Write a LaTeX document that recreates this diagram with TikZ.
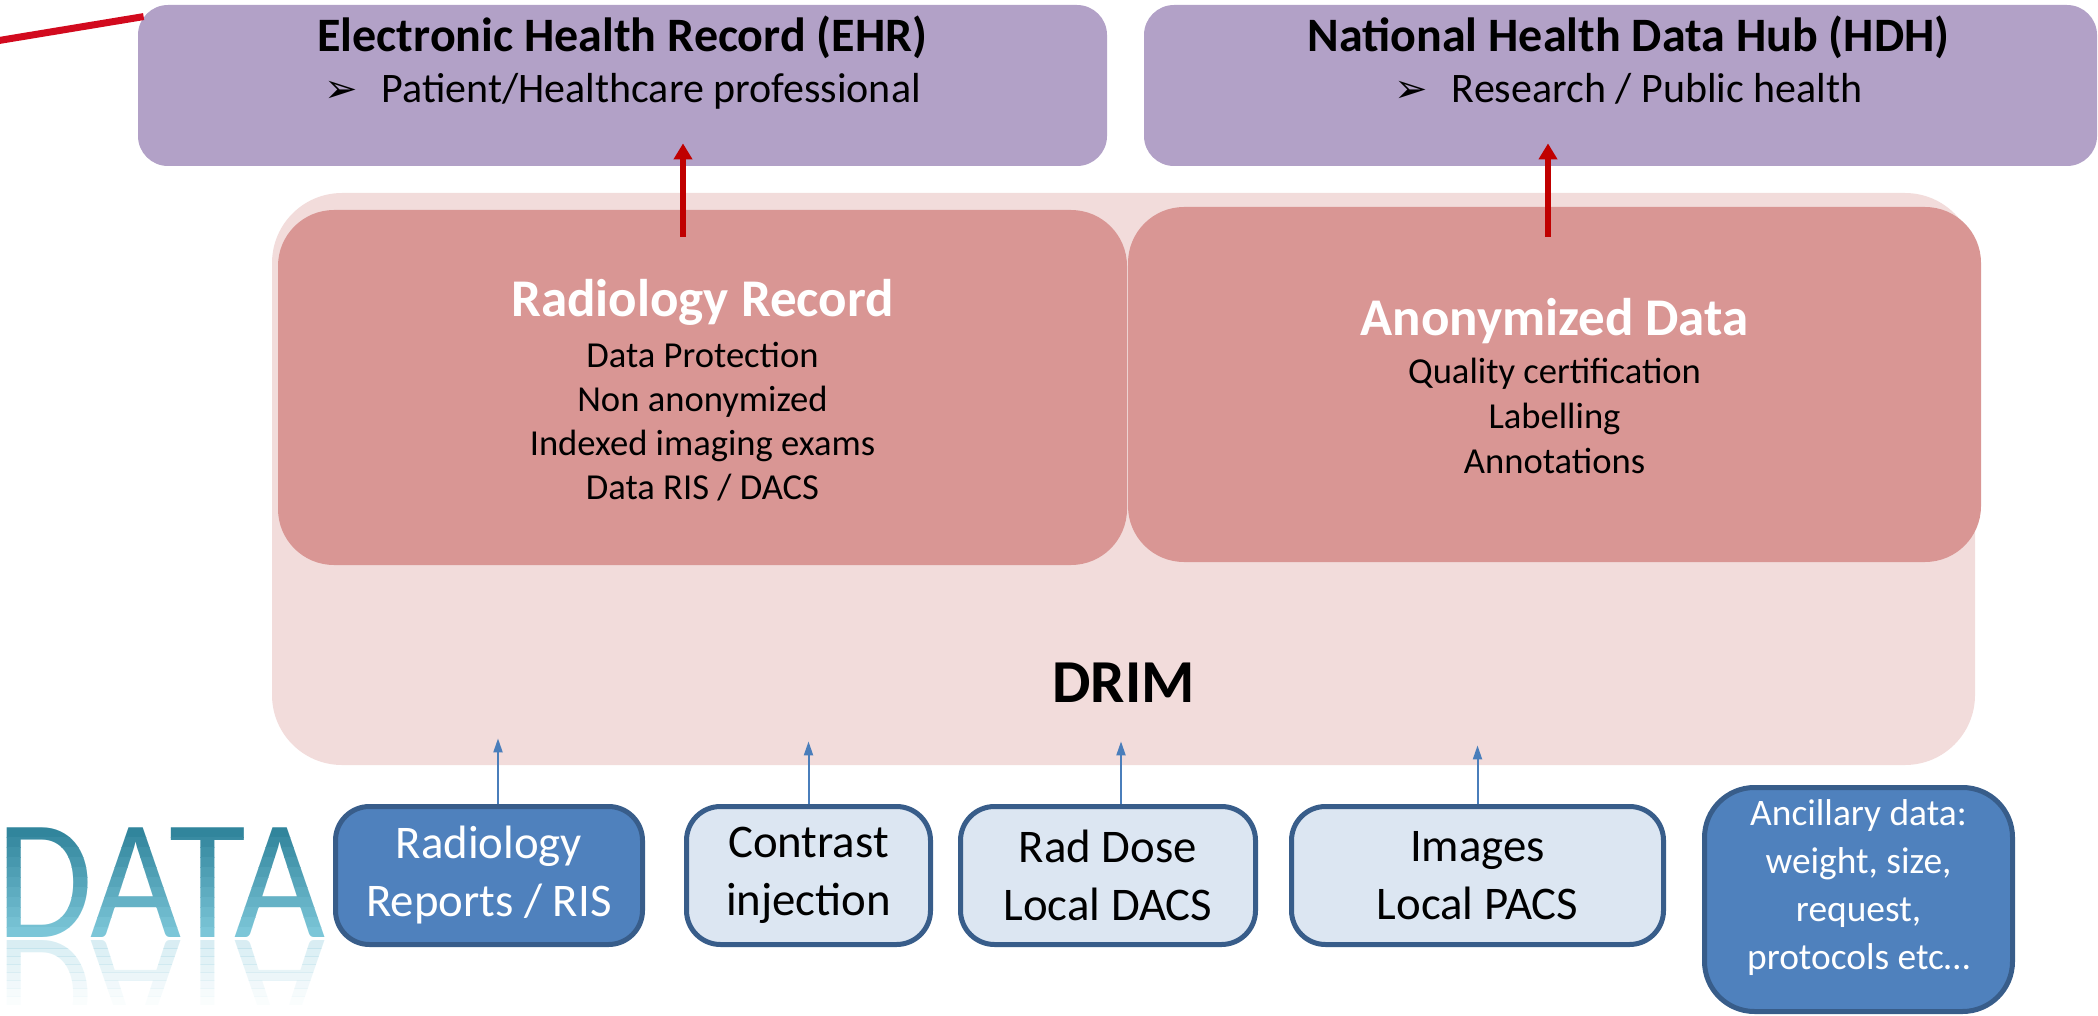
\documentclass[tikz,border=0pt]{standalone}
\usepackage{fontspec}
\setmainfont{Carlito}
\newfontfamily\symfont{DejaVu Sans}
\usetikzlibrary{positioning,arrows.meta}
\definecolor{lavbox}{HTML}{B2A1C7}
\definecolor{drimbg}{HTML}{F2DCDB}
\definecolor{recfill}{HTML}{D99694}
\definecolor{redarr}{HTML}{C00000}
\definecolor{redln}{HTML}{D20A1E}
\definecolor{bluearr}{HTML}{4A7EBB}
\definecolor{blueD}{HTML}{4F81BD}
\definecolor{blueL}{HTML}{DCE6F2}
\definecolor{blueE}{HTML}{385D8A}
\definecolor{dataA}{HTML}{31859C}
\definecolor{dataB}{HTML}{7CC6D8}
\definecolor{dataR}{HTML}{9FD3E1}

\begin{document}
\begin{tikzpicture}[x=0.5pt,y=-0.5pt]
\tikzstyle{topbox}=[rectangle, rounded corners=15pt, fill=lavbox, minimum height=80.5pt, inner sep=0pt]
\tikzstyle{ttl}=[font=\bfseries\fontsize{24}{28}\selectfont, anchor=base, inner sep=0pt]
\tikzstyle{item}=[font=\fontsize{21}{25}\selectfont, anchor=base, inner sep=0pt]
\tikzstyle{recbox}=[rectangle, rounded corners=28pt, fill=recfill, minimum width=424.5pt, minimum height=177.5pt, inner sep=0pt]
\tikzstyle{rectitle}=[font=\bfseries\fontsize{26.5}{30}\selectfont, text=white, anchor=base, inner sep=0pt]
\tikzstyle{recline}=[font=\fontsize{18.3}{22}\selectfont, anchor=base, inner sep=0pt]
\tikzstyle{srcbox}=[rectangle, rounded corners=17pt, draw=blueE, line width=2.5pt, minimum height=69pt, align=center, inner sep=0pt, font=\fontsize{23.4}{29}\selectfont]
\tikzstyle{srcdark}=[srcbox, fill=blueD, text=white]
\tikzstyle{srclight}=[srcbox, fill=blueL, text=black]
\tikzstyle{redup}=[-{Triangle[width=9pt,length=8pt]}, line width=3pt, draw=redarr]
\tikzstyle{blueup}=[-{Triangle[width=4.5pt,length=7pt]}, line width=1pt, draw=bluearr]
\tikzstyle{datatxt}=[font=\fontsize{85.5}{90}\selectfont, anchor=base west, inner sep=0pt, xscale=0.92]
\useasboundingbox (0,0) rectangle (2098,1016);

% top targets
\node[topbox, minimum width=484.5pt] (ehr) at (622.5,85.5) {};
\node[topbox, minimum width=476.5pt] (hdh) at (1620.5,85.5) {};
\coordinate (offl) at (-10,42);
\draw[redln, line width=3.5pt] (offl) -- ([xshift=3pt,yshift=-6pt]ehr.north west);
\node[ttl] (ehrT) at ([yshift=-23.5pt]ehr.north) {Electronic Health Record (EHR)};
\node[item] (ehrI) at ([yshift=-49pt]ehr.north) {{\symfont\fontsize{20}{22}\selectfont ➢}\hspace{12pt}Patient/Healthcare professional};
\node[ttl] (hdhT) at ([xshift=4pt,yshift=-23.5pt]hdh.north) {National Health Data Hub (HDH)};
\node[item] (hdhI) at ([xshift=4pt,yshift=-49pt]hdh.north) {{\symfont\fontsize{20}{22}\selectfont ➢}\hspace{12pt}Research / Public health};

% DRIM
\node[rectangle, rounded corners=35pt, fill=drimbg, minimum width=851.5pt, minimum height=286pt, inner sep=0pt] (drim) at (1123.5,479) {};
\node[font=\bfseries\fontsize{30.5}{34}\selectfont, anchor=base, inner sep=0pt] (drimT) at ([yshift=31.5pt]drim.south) {DRIM};
\node[recbox] (rr) at (702.5,387.5) {};
\node[recbox, minimum width=426.5pt] (anon) at (1554.5,384.5) {};
\node[rectitle] (rrT) at ([yshift=-53.5pt]rr.north) {Radiology Record};
\foreach \t [count=\i] in {Data Protection, Non anonymized, Indexed imaging exams, Data RIS / DACS}
  \node[recline] (rr\i) at ([yshift={-(57pt+22pt*\i)}]rr.north) {\t};
\node[rectitle] (anonT) at ([yshift=-64.5pt]anon.north) {Anonymized Data};
\foreach \t [count=\i] in {Quality certification, Labelling, Annotations}
  \node[recline] (anon\i) at ([yshift={-(66pt+22.5pt*\i)}]anon.north) {\t};
\draw[redup] ([xshift=-9.75pt,yshift=-13.5pt]rr.north) -- ([xshift=30.25pt,yshift=11.5pt]ehr.south);
\draw[redup] ([xshift=-3.25pt,yshift=-15pt]anon.north) -- ([xshift=-36.25pt,yshift=11.5pt]hdh.south);

% DATA word, shaded in strips, with its reflection
\foreach \i in {0,...,10} {
  \pgfmathsetmacro\p{\i*10}
  \pgfmathsetmacro\ya{ifthenelse(\i==0,780,827+10*\i)}
  \pgfmathsetmacro\yb{ifthenelse(\i==10,940,837+10*\i)}
  \begin{scope}
    \clip (0,\ya) rectangle (360,\yb);
    \node[datatxt, text=dataB!\p!dataA] (data\i) at (-4,937) {DATA};
  \end{scope}
}
\foreach \i in {0,...,7} {
  \pgfmathsetmacro\op{0.4-0.05*\i}
  \begin{scope}
    \clip (0,{940+8*\i}) rectangle (360,{948+8*\i});
    \node[datatxt, yscale=-1, text=dataR, opacity=\op] (refl\i) at (-4,940) {DATA};
  \end{scope}
}

% data sources
\node[srcdark, minimum width=153.5pt] (rep) at (489,875.5) {Radiology\\Reports / RIS};
\node[srclight, minimum width=122pt] (inj) at (808.5,875.5) {Contrast\\injection};
\node[srclight, minimum width=147.5pt] (dose) at (1108,875.5) {Rad Dose\\Local DACS};
\node[srclight, minimum width=186pt] (img) at (1477.5,875.5) {Images\\Local PACS};
\node[srcbox, fill=blueD, rounded corners=25pt, minimum width=154pt, minimum height=112pt] (anc) at (1858.5,899.5) {};
\node[font=\fontsize{18.7}{24}\selectfont, text=white, align=center, inner sep=0pt] (ancT) at ([yshift=5.75pt]anc.center) {Ancillary data:\\weight, size,\\request,\\protocols etc…};
\draw[blueup] ([xshift=4.5pt]rep.north) -- ([xshift=4.5pt,yshift=13.5pt]rep.north |- drim.south);
\draw[blueup] (inj.north) -- ([yshift=12pt]inj.north |- drim.south);
\draw[blueup] ([xshift=6.5pt]dose.north) -- ([xshift=6.5pt,yshift=12pt]dose.north |- drim.south);
\draw[blueup] (img.north) -- ([yshift=10pt]img.north |- drim.south);
\end{tikzpicture}
\end{document}
